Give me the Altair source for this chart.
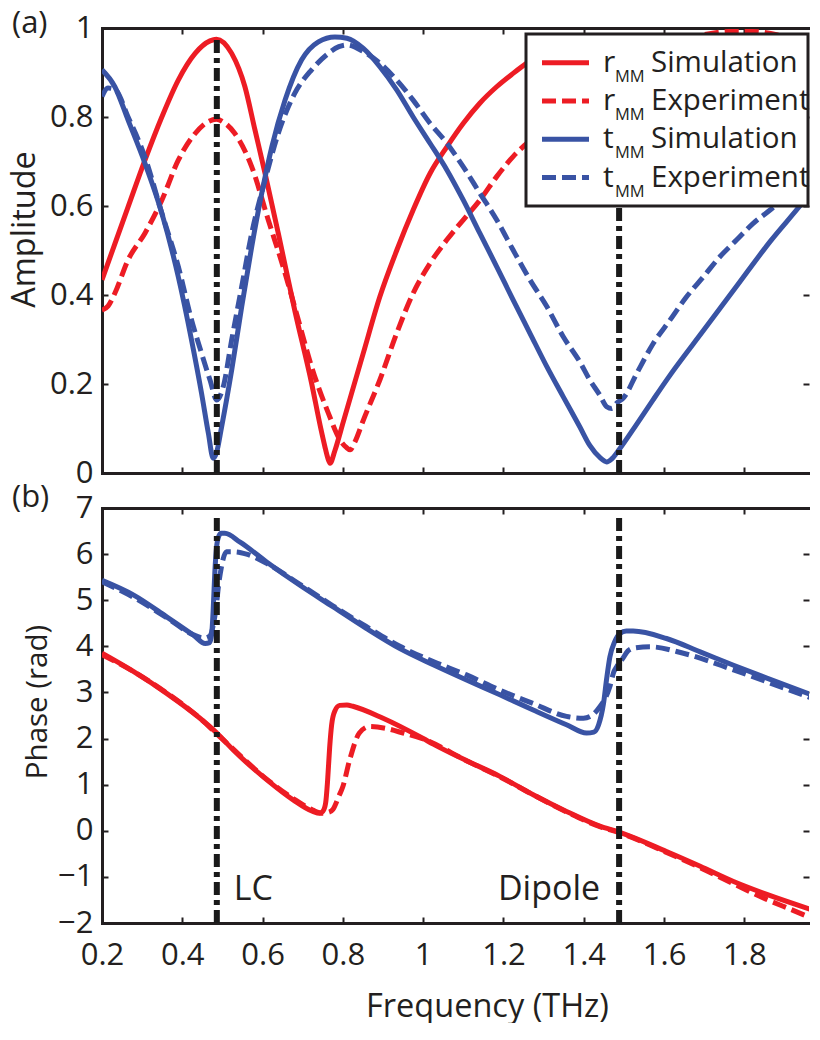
import altair as alt
import pandas as pd

FONT = "Open Sans"
TXT = "#231f20"
RED = "#ed1c24"
BLUE = "#3953a4"

# ---------------- (a) amplitude ----------------
r_sim_amp_f = [0.20, 0.232, 0.265, 0.307, 0.349, 0.39, 0.432, 0.469, 0.485, 0.523, 0.556, 0.581, 0.606,
               0.639, 0.68, 0.722, 0.745, 0.755, 0.762, 0.768, 0.78, 0.801, 0.851, 0.892, 0.934, 0.975,
               1.017, 1.059, 1.10, 1.141, 1.183, 1.224, 1.258, 1.30, 1.36, 1.42, 1.47, 1.52, 1.58, 1.65,
               1.72, 1.80, 1.87, 1.93, 1.985]
r_sim_amp = [0.434, 0.515, 0.598, 0.703, 0.80, 0.883, 0.943, 0.971, 0.975, 0.943, 0.868, 0.771, 0.674,
             0.539, 0.366, 0.202, 0.10, 0.06, 0.035, 0.022, 0.05, 0.115, 0.27, 0.396, 0.50, 0.591,
             0.673, 0.733, 0.786, 0.831, 0.868, 0.898, 0.921, 0.945, 0.962, 0.972, 0.975, 0.972, 0.962,
             0.942, 0.913, 0.873, 0.83, 0.79, 0.745]

r_exp_amp_f = [0.20, 0.215, 0.232, 0.265, 0.307, 0.349, 0.39, 0.432, 0.465, 0.485, 0.505, 0.531, 0.573,
               0.614, 0.656, 0.689, 0.722, 0.764, 0.793, 0.808, 0.818, 0.83, 0.851, 0.892, 0.934, 0.975,
               1.017, 1.059, 1.10, 1.141, 1.183, 1.224, 1.258, 1.32, 1.40, 1.48, 1.56, 1.64, 1.70, 1.76,
               1.82, 1.88, 1.93, 1.96, 1.985]
r_exp_amp = [0.366, 0.375, 0.404, 0.479, 0.539, 0.613, 0.703, 0.763, 0.79, 0.795, 0.787, 0.763, 0.688,
             0.569, 0.449, 0.344, 0.239, 0.134, 0.074, 0.058, 0.052, 0.07, 0.119, 0.209, 0.314, 0.404,
             0.471, 0.524, 0.569, 0.613, 0.666, 0.711, 0.741, 0.79, 0.85, 0.90, 0.94, 0.97, 0.985, 0.992,
             0.992, 0.985, 0.96, 0.92, 0.84]

t_sim_amp_f = [0.20, 0.232, 0.265, 0.307, 0.349, 0.39, 0.423, 0.448, 0.465, 0.477, 0.485, 0.498, 0.523,
               0.548, 0.573, 0.598, 0.623, 0.656, 0.697, 0.739, 0.78, 0.81, 0.851, 0.892, 0.934, 0.975,
               1.017, 1.059, 1.10, 1.141, 1.183, 1.224, 1.266, 1.308, 1.349, 1.39, 1.415, 1.44, 1.457,
               1.47, 1.49, 1.532, 1.573, 1.615, 1.698, 1.781, 1.864, 1.947, 1.985]
t_sim_amp = [0.906, 0.868, 0.793, 0.696, 0.584, 0.441, 0.299, 0.179, 0.089, 0.033, 0.045, 0.104, 0.231,
             0.374, 0.509, 0.629, 0.733, 0.838, 0.928, 0.969, 0.98, 0.977, 0.954, 0.913, 0.861, 0.80,
             0.741, 0.681, 0.613, 0.539, 0.464, 0.389, 0.314, 0.239, 0.171, 0.104, 0.062, 0.035, 0.025,
             0.032, 0.055, 0.11, 0.165, 0.22, 0.32, 0.42, 0.52, 0.61, 0.655]

t_exp_amp_f = [0.20, 0.215, 0.232, 0.265, 0.307, 0.349, 0.39, 0.423, 0.448, 0.469, 0.486, 0.502, 0.523,
               0.548, 0.573, 0.606, 0.639, 0.68, 0.722, 0.764, 0.79, 0.81, 0.851, 0.892, 0.934, 0.975,
               1.017, 1.059, 1.10, 1.141, 1.183, 1.224, 1.266, 1.308, 1.349, 1.39, 1.415, 1.44, 1.457,
               1.47, 1.482, 1.50, 1.532, 1.573, 1.615, 1.656, 1.698, 1.739, 1.781, 1.822, 1.864, 1.93,
               1.985]
t_exp_amp = [0.846, 0.865, 0.862, 0.80, 0.71, 0.584, 0.464, 0.344, 0.269, 0.209, 0.164, 0.194, 0.299,
             0.419, 0.539, 0.658, 0.763, 0.853, 0.906, 0.943, 0.958, 0.962, 0.947, 0.921, 0.883, 0.838,
             0.786, 0.741, 0.688, 0.629, 0.569, 0.501, 0.434, 0.374, 0.306, 0.25, 0.209, 0.175, 0.149,
             0.145, 0.157, 0.17, 0.224, 0.291, 0.344, 0.396, 0.441, 0.486, 0.524, 0.561, 0.591, 0.645,
             0.69]

# ---------------- (b) phase ----------------
r_sim_ph_f = [0.20, 0.279, 0.361, 0.444, 0.486, 0.527, 0.61, 0.676, 0.725, 0.742, 0.75, 0.757, 0.762,
              0.767, 0.772, 0.78, 0.792, 0.81, 0.825, 0.90, 1.0, 1.025, 1.108, 1.191, 1.274, 1.357, 1.44,
              1.488, 1.606, 1.69, 1.773, 1.856, 1.985]
r_sim_ph = [3.85, 3.45, 2.98, 2.44, 2.12, 1.75, 1.11, 0.67, 0.42, 0.38, 0.42, 0.6, 1.1, 1.8, 2.3, 2.6,
            2.72, 2.73, 2.70, 2.44, 2.0, 1.88, 1.52, 1.18, 0.78, 0.42, 0.10, -0.03, -0.45, -0.77, -1.10,
            -1.38, -1.76]

r_exp_ph_f = [0.20, 0.279, 0.361, 0.444, 0.486, 0.527, 0.61, 0.676, 0.725, 0.75, 0.765, 0.775, 0.79,
              0.80, 0.817, 0.841, 0.866, 0.907, 0.95, 1.0, 1.108, 1.191, 1.274, 1.357, 1.44, 1.488, 1.606,
              1.69, 1.773, 1.856, 1.92, 1.985]
r_exp_ph = [3.82, 3.45, 2.99, 2.44, 2.10, 1.77, 1.12, 0.70, 0.45, 0.38, 0.40, 0.46, 0.75, 0.96, 1.54,
            2.12, 2.26, 2.22, 2.12, 1.99, 1.52, 1.17, 0.78, 0.41, 0.09, -0.04, -0.47, -0.80, -1.15,
            -1.49, -1.72, -1.96]

t_sim_ph_f = [0.20, 0.279, 0.361, 0.428, 0.457, 0.468, 0.473, 0.477, 0.481, 0.486, 0.49, 0.497, 0.506,
              0.544, 0.61, 0.692, 0.775, 0.858, 0.942, 1.025, 1.108, 1.191, 1.274, 1.357, 1.407, 1.425,
              1.437, 1.449, 1.457, 1.465, 1.477, 1.49, 1.506, 1.523, 1.606, 1.69, 1.773, 1.856, 1.985]
t_sim_ph = [5.43, 5.11, 4.64, 4.24, 4.06, 4.08, 4.25, 4.8, 5.6, 6.2, 6.37, 6.45, 6.45, 6.26, 5.83, 5.33,
            4.86, 4.39, 3.95, 3.6, 3.27, 2.95, 2.62, 2.30, 2.12, 2.14, 2.3, 2.75, 3.3, 3.77, 4.1, 4.28,
            4.33, 4.33, 4.17, 3.88, 3.59, 3.31, 2.89]

t_exp_ph_f = [0.20, 0.279, 0.361, 0.428, 0.455, 0.468, 0.477, 0.485, 0.49, 0.497, 0.51, 0.53, 0.56,
              0.61, 0.692, 0.775, 0.858, 0.942, 1.025, 1.108, 1.191, 1.274, 1.357, 1.399, 1.42, 1.44,
              1.455, 1.465, 1.475, 1.482, 1.488, 1.494, 1.51, 1.523, 1.565, 1.648, 1.773, 1.856, 1.985]
t_exp_ph = [5.4, 5.06, 4.62, 4.25, 4.18, 4.22, 4.45, 4.9, 5.3, 5.7, 6.05, 6.05, 6.0, 5.8, 5.35, 4.88,
            4.43, 4.0, 3.67, 3.38, 3.05, 2.76, 2.48, 2.44, 2.5, 2.69, 2.9, 3.13, 3.45, 3.56, 3.65, 3.70,
            3.9, 3.96, 3.99, 3.85, 3.49, 3.23, 2.82]

# resonance markers
res_freq = [0.486, 1.488]
res_labels = ["LC", "Dipole"]
rule_amp_range = [0.0, 0.98]
rule_ph_range = [-2.0, 6.85]
label_ph = -1.5

x_ticks = [0.2, 0.4, 0.6, 0.8, 1.0, 1.2, 1.4, 1.6, 1.8]
amp_ticks = [0, 0.2, 0.4, 0.6, 0.8, 1.0]
ph_ticks = [-2, -1, 0, 1, 2, 3, 4, 5, 6, 7]

legend_sym = ["r", "r", "t", "t"]
legend_sub = ["MM", "MM", "MM", "MM"]
legend_desc = ["Simulation", "Experiment", "Simulation", "Experiment"]
legend_color = [RED, RED, BLUE, BLUE]
legend_dashed = [False, True, False, True]

W = 707
H_TOP = 445
H_BOT = 415
XDOM = [0.2, 1.961]
LW = 5
DASH = [14, 6]
RULE_DASH = [13, 5, 5, 5]
LABEL_FS = 31


def df(f, v):
    return pd.DataFrame({"f": f, "v": v})


def build_panel(series, ydom, yticks, ytitle, ytitle_fs, H, bottom_labels, title_x, title_y,
                panel_label, label_y, annotate, legend):
    xs = alt.Scale(domain=XDOM, nice=False, zero=False)
    ys = alt.Scale(domain=ydom, nice=False, zero=False)

    common_x = dict(values=x_ticks, grid=False, labelFlush=False)
    common_y = dict(values=yticks, grid=False, labelFlush=False)

    if bottom_labels:
        ax_x_main = alt.Axis(orient="bottom", format="~g", labels=True, ticks=False, tickSize=0,
                             domain=True, title="Frequency (THz)", titlePadding=20,
                             titleFontSize=32.5, titleX=385, labelPadding=17, **common_x)
    else:
        ax_x_main = alt.Axis(orient="bottom", labels=False, ticks=False, tickSize=0,
                             domain=True, title=None, **common_x)
    ax_y_main = alt.Axis(orient="left", format="~g", labels=True, ticks=False, tickSize=0,
                         domain=True, title=ytitle, titleFontSize=ytitle_fs,
                         titleX=title_x, titleY=title_y,
                         titleAngle=270, titleBaseline="bottom", titleAlign="center",
                         labelPadding=9, **common_y)
    ax_x_in_bottom = alt.Axis(orient="top", offset=-H, labels=False, ticks=True, tickSize=6,
                              domain=False, title=None, **common_x)
    ax_y_in_left = alt.Axis(orient="right", offset=-W, labels=False, ticks=True, tickSize=6,
                            domain=False, title=None, **common_y)
    ax_x_in_top = alt.Axis(orient="bottom", offset=-H, labels=False, ticks=True, tickSize=6,
                           domain=True, title=None, **common_x)
    ax_y_in_right = alt.Axis(orient="left", offset=-W, labels=False, ticks=True, tickSize=6,
                             domain=False, title=None, **common_y)

    axes = [(ax_x_main, ax_y_main), (ax_x_in_bottom, ax_y_in_left),
            (ax_x_in_top, ax_y_in_right), (None, None)]

    layers = []
    for (data, color, dashed), (axx, axy) in zip(series, axes):
        mk = dict(color=color, strokeWidth=LW, interpolate="monotone", strokeCap="butt", clip=True)
        if dashed:
            mk["strokeDash"] = DASH
        layers.append(
            alt.Chart(data).mark_line(**mk).encode(
                x=alt.X("f:Q", scale=xs, axis=axx),
                y=alt.Y("v:Q", scale=ys, axis=axy),
            )
        )

    rng = rule_amp_range if not annotate else rule_ph_range
    rdf = pd.DataFrame({"f": res_freq, "y1": [rng[0]] * 2, "y2": [rng[1]] * 2})
    layers.append(
        alt.Chart(rdf).mark_rule(color="#1a1a1a", strokeWidth=6, strokeDash=RULE_DASH).encode(
            x=alt.X("f:Q", scale=xs, axis=None),
            y=alt.Y("y1:Q", scale=ys, axis=None),
            y2="y2:Q",
        )
    )

    if annotate:
        for i, (align, dx) in enumerate([("left", 17), ("right", -19)]):
            adf = pd.DataFrame({"f": [res_freq[i]], "v": [label_ph], "t": [res_labels[i]]})
            layers.append(
                alt.Chart(adf).mark_text(font=FONT, fontSize=34, color=TXT, align=align,
                                         baseline="alphabetic", dx=dx).encode(
                    x=alt.X("f:Q", scale=xs, axis=None),
                    y=alt.Y("v:Q", scale=ys, axis=None),
                    text="t:N",
                )
            )

    if legend:
        one = pd.DataFrame({"k": [0]})
        layers.append(
            alt.Chart(one).mark_rect(fill="white", stroke=TXT, strokeWidth=3).encode(
                x=alt.value(424), x2=alt.value(706), y=alt.value(6), y2=alt.value(178)
            )
        )
        for i in range(4):
            base = 43.7 + 38.3 * i
            mk = dict(color=legend_color[i], strokeWidth=LW, strokeCap="butt")
            if legend_dashed[i]:
                mk["strokeDash"] = DASH
            layers.append(
                alt.Chart(one).mark_rule(**mk).encode(
                    x=alt.value(440), x2=alt.value(487), y=alt.value(base - 9)
                )
            )
            for txt, xpos, dy, fs in [(legend_sym[i], 501, 0, 30), (legend_sub[i], 513, 10, 16.5),
                                      (legend_desc[i], 549, 0, 29.5)]:
                tdf = pd.DataFrame({"t": [txt]})
                layers.append(
                    alt.Chart(tdf).mark_text(font=FONT, fontSize=fs, color=TXT, align="left",
                                             baseline="alphabetic").encode(
                        x=alt.value(xpos), y=alt.value(base + dy), text="t:N"
                    )
                )

    ldf = pd.DataFrame({"t": [panel_label]})
    layers.append(
        alt.Chart(ldf).mark_text(font=FONT, fontSize=31, color=TXT, align="left",
                                 baseline="alphabetic").encode(
            x=alt.value(-90), y=alt.value(label_y), text="t:N"
        )
    )

    return alt.layer(*layers).resolve_axis(x="independent", y="independent").properties(
        width=W, height=H
    )


top = build_panel(
    [(df(r_sim_amp_f, r_sim_amp), RED, False),
     (df(r_exp_amp_f, r_exp_amp), RED, True),
     (df(t_sim_amp_f, t_sim_amp), BLUE, False),
     (df(t_exp_amp_f, t_exp_amp), BLUE, True)],
    [0, 1], amp_ticks, "Amplitude", 32.5, H_TOP, False, -61, 201, "(a)", 5, False, True,
)
bottom = build_panel(
    [(df(r_sim_ph_f, r_sim_ph), RED, False),
     (df(r_exp_ph_f, r_exp_ph), RED, True),
     (df(t_sim_ph_f, t_sim_ph), BLUE, False),
     (df(t_exp_ph_f, t_exp_ph), BLUE, True)],
    [-2, 7], ph_ticks, "Phase (rad)", 29.5, H_BOT, True, -50, 193.5, "(b)", -1, True, False,
)

chart = alt.vconcat(top, bottom, spacing=35, bounds="flush").properties(
    padding={"left": 0, "top": 0, "right": 0, "bottom": 0}
).configure_view(stroke=None).configure_axis(
    labelFont=FONT, labelFontSize=LABEL_FS, labelColor=TXT,
    titleFont=FONT, titleColor=TXT, titleFontWeight="normal",
    domainColor=TXT, domainWidth=3, domainCap="square", tickColor=TXT, tickWidth=2,
)

chart.save("out.html", embed_options={"renderer": "svg", "actions": False})
